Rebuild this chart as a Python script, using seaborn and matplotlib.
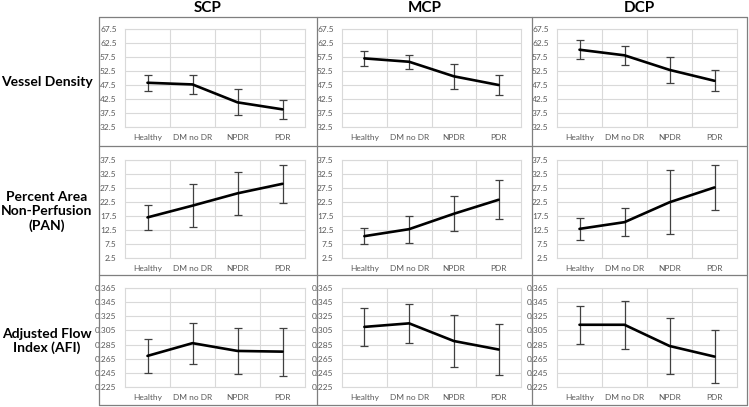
import numpy as np
import pandas as pd
import matplotlib
matplotlib.use("Agg")
import matplotlib.pyplot as plt
from matplotlib.lines import Line2D
import seaborn as sns

sns.set_theme(style="white")
plt.rcParams['font.family'] = ['Lato', 'DejaVu Sans']

categories = ["Healthy", "DM no DR", "NPDR", "PDR"]
columns = ["SCP", "MCP", "DCP"]
row_labels = ["Vessel Density", "Percent Area\nNon-Perfusion\n(PAN)", "Adjusted Flow\nIndex (AFI)"]

vd_scp_mean = [48.3, 47.7, 41.3, 38.8]
vd_scp_sd = [2.9, 3.5, 4.6, 3.5]
vd_mcp_mean = [57.0, 55.8, 50.6, 47.5]
vd_mcp_sd = [2.8, 2.5, 4.5, 3.6]
vd_dcp_mean = [60.1, 58.1, 52.9, 49.0]
vd_dcp_sd = [3.3, 3.5, 4.6, 3.8]

pan_scp_mean = [17.0, 21.2, 25.6, 29.0]
pan_scp_sd = [4.4, 7.7, 7.7, 6.8]
pan_mcp_mean = [10.3, 12.8, 18.3, 23.3]
pan_mcp_sd = [2.9, 4.8, 6.3, 7.0]
pan_dcp_mean = [12.9, 15.3, 22.4, 27.7]
pan_dcp_sd = [3.9, 5.1, 11.4, 8.0]

afi_scp_mean = [0.269, 0.287, 0.276, 0.275]
afi_scp_sd = [0.024, 0.029, 0.033, 0.034]
afi_mcp_mean = [0.310, 0.315, 0.290, 0.278]
afi_mcp_sd = [0.027, 0.028, 0.037, 0.036]
afi_dcp_mean = [0.313, 0.313, 0.283, 0.268]
afi_dcp_sd = [0.027, 0.034, 0.040, 0.037]

vd_ticks = [32.5, 37.5, 42.5, 47.5, 52.5, 57.5, 62.5, 67.5]
pan_ticks = [2.5, 7.5, 12.5, 17.5, 22.5, 27.5, 32.5, 37.5]
afi_ticks = [0.225, 0.245, 0.265, 0.285, 0.305, 0.325, 0.345, 0.365]

panels = [
    [(vd_scp_mean, vd_scp_sd), (vd_mcp_mean, vd_mcp_sd), (vd_dcp_mean, vd_dcp_sd)],
    [(pan_scp_mean, pan_scp_sd), (pan_mcp_mean, pan_mcp_sd), (pan_dcp_mean, pan_dcp_sd)],
    [(afi_scp_mean, afi_scp_sd), (afi_mcp_mean, afi_mcp_sd), (afi_dcp_mean, afi_dcp_sd)],
]
row_ticks = [vd_ticks, pan_ticks, afi_ticks]
row_fmt = ["{:.1f}", "{:.1f}", "{:.3f}"]

W, H = 749, 407
fig = plt.figure(figsize=(W / 100, H / 100), dpi=100)
fig.patch.set_facecolor("white")

col_x = [99, 317, 532, 747]
row_y = [17, 146, 275, 405]
# plot-area insets (left, right) per column and (top, bottom) per row, in px
col_in = [(26, 12), (25, 11), (25, 10)]
row_in = [(12, 19), (14, 17), (13, 18)]

def fx(px):
    return px / W

def fy(py):
    return 1 - py / H

# grid of the table
lc = "#7f7f7f"
for x in col_x:
    fig.add_artist(Line2D([fx(x), fx(x)], [fy(row_y[0]), fy(row_y[-1])], color=lc, lw=0.9))
for y in row_y:
    fig.add_artist(Line2D([fx(col_x[0]), fx(col_x[-1])], [fy(y), fy(y)], color=lc, lw=0.9))

xpos = np.arange(len(categories))
grid_c = "#d9d9d9"
tick_c = "#595959"

for r in range(3):
    for c in range(3):
        mean, sd = panels[r][c]
        l = col_x[c] + col_in[c][0]
        rgt = col_x[c + 1] - col_in[c][1]
        t = row_y[r] + row_in[r][0]
        b = row_y[r + 1] - row_in[r][1]
        ax = fig.add_axes([fx(l), fy(b), fx(rgt) - fx(l), fy(t) - fy(b)])
        df = pd.DataFrame({"x": xpos, "y": mean})
        ax.errorbar(xpos, mean, yerr=sd, fmt="none", ecolor="#404040",
                    elinewidth=0.9, capsize=2.6, capthick=0.9, zorder=2)
        sns.lineplot(data=df, x="x", y="y", ax=ax, color="black", lw=1.9,
                     sort=False, zorder=3)
        ticks = row_ticks[r]
        ax.set_ylim(ticks[0], ticks[-1])
        ax.set_xlim(-0.5, len(categories) - 0.5)
        ax.set_yticks(ticks)
        ax.set_yticklabels([row_fmt[r].format(v) for v in ticks], fontsize=6, color=tick_c)
        ax.set_xticks(xpos)
        ax.set_xticklabels(categories, fontsize=6, color=tick_c)
        ax.tick_params(which="both", length=0, pad=6)
        ax.tick_params(axis="x", pad=5)
        for v in ticks:
            ax.axhline(v, color=grid_c, lw=0.8, zorder=0)
        for v in np.arange(len(categories) - 1) + 0.5:
            ax.axvline(v, color=grid_c, lw=0.8, zorder=0)
        for s in ax.spines.values():
            s.set_color(grid_c)
            s.set_linewidth(0.8)
        ax.set_xlabel("")
        ax.set_ylabel("")
        ax.set_facecolor("white")

for c, name in enumerate(columns):
    fig.text(fx((col_x[c] + col_x[c + 1]) / 2), fy(8), name, ha="center", va="center",
             fontsize=11, fontweight="bold", color="black")

for r, lab in enumerate(row_labels):
    fig.text(fx(47), fy((row_y[r] + row_y[r + 1]) / 2 + 1), lab, ha="center", va="center",
             fontsize=10, fontweight="bold", color="black", linespacing=1.2)

fig.savefig("out.png", dpi=100, facecolor="white")
